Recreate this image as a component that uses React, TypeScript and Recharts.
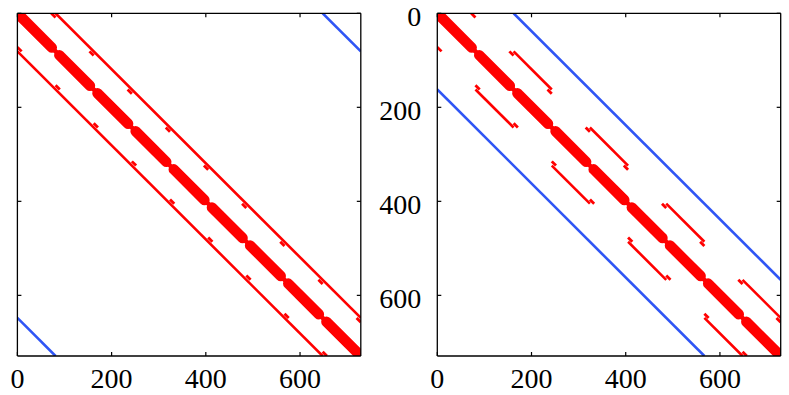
import { LineChart, Line, XAxis, YAxis } from 'recharts';

const N = 729;
const ticks = [0, 200, 400, 600];
const blockEdges = [0, 81, 162, 243, 324, 405, 486, 567, 648, 729];

// bands given as row ranges plus column offset
const leftBands = [
  { offset: 81, start: 0, end: 648 },
  { offset: -81, start: 81, end: 729 },
];
const leftWrap = [
  { offset: 648, start: 0, end: 81 },
  { offset: -648, start: 648, end: 729 },
];
const upperBlobRows = [0, 81, 162, 243, 324, 405, 486, 567, 648]; // offset +72, 9 rows
const lowerBlobRows = [72, 153, 234, 315, 396, 477, 558, 639, 720]; // offset -72, 9 rows
const rightUpperBlocks = [81, 243, 405, 567]; // offset +81, 81 rows
const rightLowerBlocks = [162, 324, 486, 648]; // offset -81, 81 rows
const rightWrap = [
  { offset: 162, start: 0, end: 567 },
  { offset: -162, start: 162, end: 729 },
];

const RED = '#ff0000';
const BLUE = '#2f55f5';
const FONT = '"Liberation Serif", "Times New Roman", serif';

type Seg = { pts: { x: number; y: number }[]; color: string; w: number; cap?: 'round' | 'butt' };

const seg = (r0: number, r1: number, off: number) => [
  { x: r0 + off, y: r0 },
  { x: r1 + off, y: r1 },
];

function commonSegs(): Seg[] {
  const out: Seg[] = [];
  upperBlobRows.forEach((r) => out.push({ pts: seg(r, r + 9, 72), color: RED, w: 2.8 }));
  lowerBlobRows.forEach((r) => out.push({ pts: seg(r, r + 9, -72), color: RED, w: 2.8 }));
  out.push({ pts: seg(0, N, 0), color: RED, w: 4.5 });
  blockEdges.slice(0, -1).forEach((a, i) =>
    out.push({ pts: seg(a + 8, blockEdges[i + 1] - 8, 0), color: RED, w: 10.5, cap: 'round' })
  );
  return out;
}

const leftSegs: Seg[] = [
  ...leftWrap.map((b) => ({ pts: seg(b.start, b.end, b.offset), color: BLUE, w: 2.6 })),
  ...leftBands.map((b) => ({ pts: seg(b.start, b.end, b.offset), color: RED, w: 2.6 })),
  ...commonSegs(),
];

const rightSegs: Seg[] = [
  ...rightWrap.map((b) => ({ pts: seg(b.start, b.end, b.offset), color: BLUE, w: 2.6 })),
  ...rightUpperBlocks.map((r) => ({ pts: seg(r, r + 81, 81), color: RED, w: 2.6 })),
  ...rightLowerBlocks.map((r) => ({ pts: seg(r, r + 81, -81), color: RED, w: 2.6 })),
  ...commonSegs(),
];

const axisLine = { stroke: '#000', strokeWidth: 1.3 };
const tickLine = { stroke: '#000', strokeWidth: 1.2 };
const tickFont = { fontFamily: FONT, fontSize: 28, fill: '#000' };
const yTickFont = { ...tickFont, dy: 2.5 };
const blank = () => '';

function Panel({ segs, width, margin, yLabels }: { segs: Seg[]; width: number; margin: any; yLabels: boolean }) {
  return (
    <LineChart width={width} height={395} margin={margin}>
      <XAxis xAxisId="b" type="number" dataKey="x" domain={[0, N]} ticks={ticks} interval={0}
        orientation="bottom" height={30} tickSize={-4} tickMargin={16} tick={tickFont}
        axisLine={axisLine} tickLine={tickLine} allowDataOverflow />
      <XAxis xAxisId="t" type="number" dataKey="x" domain={[0, N]} ticks={ticks} interval={0}
        orientation="top" height={2} tickSize={-4} tickFormatter={blank}
        axisLine={axisLine} tickLine={tickLine} allowDataOverflow />
      <YAxis yAxisId="l" type="number" dataKey="y" domain={[0, N]} ticks={ticks} interval={0}
        reversed orientation="left" width={yLabels ? 40 : 2} tickSize={-4} tickMargin={20}
        tick={yTickFont} tickFormatter={yLabels ? undefined : blank}
        axisLine={axisLine} tickLine={tickLine} allowDataOverflow />
      <YAxis yAxisId="r" type="number" dataKey="y" domain={[0, N]} ticks={ticks} interval={0}
        reversed orientation="right" width={2} tickSize={-4} tickFormatter={blank}
        axisLine={axisLine} tickLine={tickLine} allowDataOverflow />
      {segs.map((s, i) => (
        <Line key={i} xAxisId="b" yAxisId="l" data={s.pts} dataKey="y" type="linear"
          stroke={s.color} strokeWidth={s.w} strokeLinecap={s.cap ?? 'butt'}
          dot={false} activeDot={false} isAnimationActive={false} />
      ))}
    </LineChart>
  );
}

export default function App() {
  return (
    <div style={{ position: 'absolute', left: 0, top: 0, width: 789, height: 395, background: '#fff' }}>
      <div style={{ position: 'absolute', left: 0, top: 0 }}>
        <Panel segs={leftSegs} width={380} yLabels={false}
          margin={{ top: 11.3, right: 17.2, bottom: 9, left: 15.4 }} />
      </div>
      <div style={{ position: 'absolute', left: 360, top: 0 }}>
        <Panel segs={rightSegs} width={429} yLabels
          margin={{ top: 11.3, right: 6.3, bottom: 9, left: 37.3 }} />
      </div>
    </div>
  );
}
